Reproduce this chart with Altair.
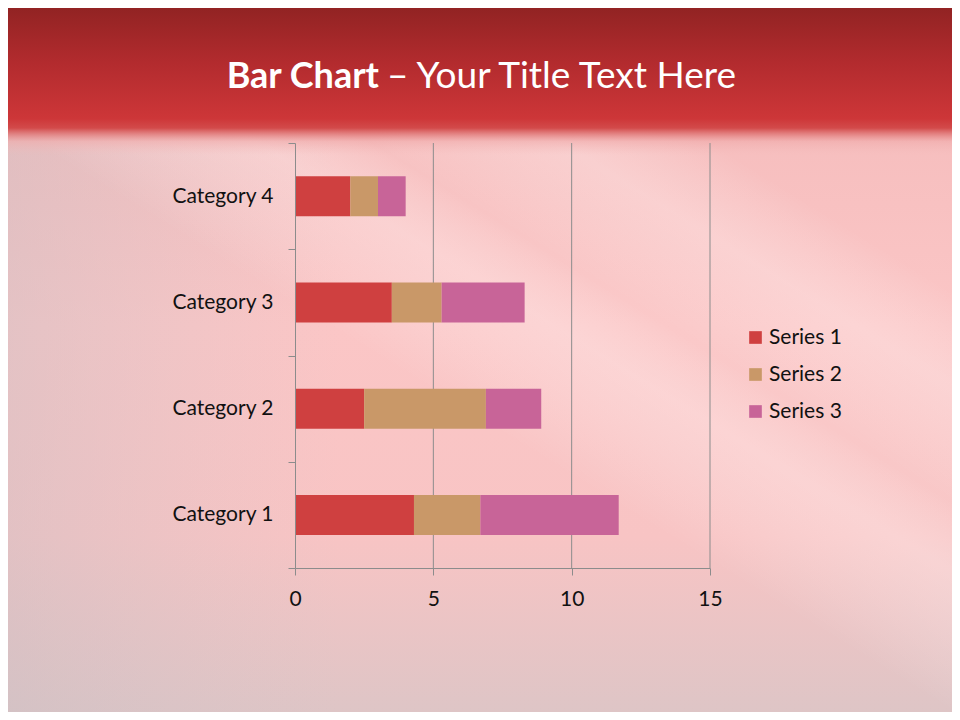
import pandas as pd
import altair as alt

categories = ["Category 1", "Category 2", "Category 3", "Category 4"]
series_names = ["Series 1", "Series 2", "Series 3"]
series_1 = [4.3, 2.5, 3.5, 2.0]
series_2 = [2.4, 4.4, 1.8, 1.0]
series_3 = [5.0, 2.0, 3.0, 1.0]
colors = ["#CF4040", "#C99868", "#C86498"]
x_ticks = [0, 5, 10, 15]
grid_ticks = [5, 10, 15]

FONT = "Lato"
AXIS_GREY = "#8c8c8c"

rows = []
for k, (name, vals) in enumerate(zip(series_names, [series_1, series_2, series_3])):
    for cat, v in zip(categories, vals):
        rows.append({"category": cat, "series": name, "value": v, "order": k})
df = pd.DataFrame(rows)

# plot area in page pixels: x 295..710, y 143..568
W, H = 415, 425
PAD_L, PAD_T = 287, 135
TOTAL_W, TOTAL_H = 944, 704

one = pd.DataFrame({"a": [0]})


def band(y0, y1, stops, x1=0, y1g=0, x2=0, y2g=1):
    return alt.Chart(one).mark_rect(
        fill=alt.Gradient(gradient="linear", x1=x1, x2=x2, y1=y1g, y2=y2g,
                          stops=[alt.GradientStop(color=c, offset=o) for o, c in stops])
    ).encode(x=alt.value(-PAD_L), x2=alt.value(TOTAL_W - PAD_L),
             y=alt.value(y0), y2=alt.value(y1))


# slide background (decoration)
body_bg = band(-PAD_T, TOTAL_H - PAD_T,
               [(0, "#f3b9b9"), (0.45, "#fbc6c6"), (0.75, "#f8c4c4"), (1, "#dec5c6")])
sheen = band(-15, TOTAL_H - PAD_T,
             [(0, "rgba(255,255,255,0)"), (0.5, "rgba(255,255,255,0)"),
              (0.62, "rgba(255,240,240,0.35)"), (0.68, "rgba(255,255,255,0.05)"),
              (0.78, "rgba(255,245,245,0.3)"), (0.86, "rgba(255,255,255,0)"),
              (1, "rgba(255,255,255,0)")],
             x1=0, y1g=1, x2=1, y2g=0)
shade = band(-15, TOTAL_H - PAD_T,
             [(0, "rgba(200,190,195,0.45)"), (0.35, "rgba(210,195,200,0)"),
              (1, "rgba(210,195,200,0)")],
             x1=0, y1g=0.5, x2=1, y2g=0.5)
header = band(-PAD_T, -15,
              [(0, "#922323"), (0.45, "#b22b2e"), (0.92, "#cd3638"), (1, "#d24a4a")])
fade = band(-15, 12,
            [(0, "#d24a4a"), (0.5, "rgba(240,170,170,0.6)"), (1, "rgba(243,185,185,0)")])

gridlines = alt.Chart(pd.DataFrame({"g": grid_ticks})).mark_rule(
    color=AXIS_GREY, strokeWidth=1
).encode(x=alt.X("g:Q"))

bars = alt.Chart(df).mark_bar(size=40).encode(
    x=alt.X("value:Q", stack="zero", title=None,
            scale=alt.Scale(domain=[0, 15], nice=False),
            axis=alt.Axis(values=x_ticks, grid=False, domainColor=AXIS_GREY,
                          tickColor=AXIS_GREY, tickSize=7, labelPadding=13,
                          labelFontSize=21, labelColor="#111111", labelFlush=False,
                          labelFont=FONT, zindex=1)),
    y=alt.Y("category:N", sort=categories[::-1], title=None,
            scale=alt.Scale(paddingInner=0, paddingOuter=0),
            axis=alt.Axis(tickBand="extent", domainColor=AXIS_GREY,
                          tickColor=AXIS_GREY, tickSize=7, labelPadding=15,
                          labelFontSize=21, labelColor="#111111",
                          labelFont=FONT, grid=False, zindex=1)),
    color=alt.Color("series:N", sort=series_names,
                    scale=alt.Scale(domain=series_names, range=colors),
                    legend=alt.Legend(title=None, orient="none",
                                      legendX=450, legendY=184,
                                      symbolType="square", symbolSize=160,
                                      symbolStrokeWidth=0, labelFontSize=21,
                                      labelFont=FONT, labelColor="#111111",
                                      rowPadding=15, labelOffset=3)),
    order=alt.Order("order:Q"),
)

title_bold = alt.Chart(one).mark_text(
    text="Bar Chart", font=FONT, fontSize=36, fontWeight="bold",
    color="white", align="right", baseline="alphabetic"
).encode(x=alt.value(379 - 295), y=alt.value(88 - 143))

title_rest = alt.Chart(one).mark_text(
    text="\u2013 Your Title Text Here", font=FONT, fontSize=37,
    color="white", align="left", baseline="alphabetic"
).encode(x=alt.value(387 - 295), y=alt.value(88 - 143))

chart = alt.layer(body_bg, shade, sheen, header, fade, gridlines, bars,
                  title_bold, title_rest).properties(
    width=W, height=H,
    autosize=alt.AutoSizeParams(type="none"),
    padding={"left": PAD_L, "top": PAD_T,
             "right": TOTAL_W - PAD_L - W, "bottom": TOTAL_H - PAD_T - H},
    background="#f6c2c2",
).configure_view(stroke=None)

chart.save("out.html", embed_options={"renderer": "svg", "actions": False})
